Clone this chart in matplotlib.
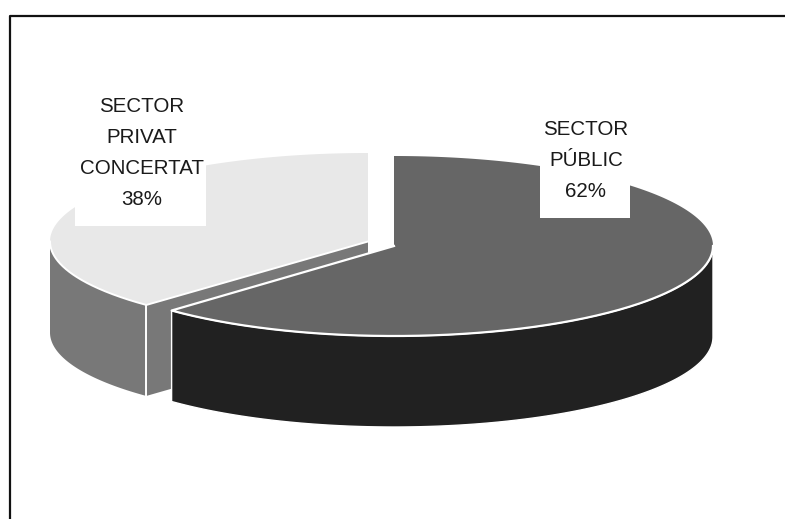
import numpy as np
import matplotlib
matplotlib.use("Agg")
import matplotlib.pyplot as plt
from matplotlib.patches import Polygon, Rectangle

# data
sectors = ["SECTOR PÚBLIC", "SECTOR PRIVAT CONCERTAT"]
shares = [62, 38]
label_lines = [["SECTOR", "PÚBLIC", "62%"], ["SECTOR", "PRIVAT", "CONCERTAT", "38%"]]

# colours for (top, wall)
top_colors = ["#666666", "#e8e8e8"]
wall_colors = ["#212121", "#787878"]

plt.rcParams["font.family"] = ["Liberation Sans", "DejaVu Sans"]

fig = plt.figure(figsize=(7.85, 5.19), dpi=100)
ax = fig.add_axes([0, 0, 1, 1])
ax.set_xlim(0, 785)
ax.set_ylim(519, 0)
ax.axis("off")

depth = 91
# angle where the two slices meet, with a small nudge for the tilted view
split = 90 - 360 * shares[0] / sum(shares) - 1


def arc(cx, cy, rx, ry, start, end):
    t = np.radians(np.linspace(start, end, 200))
    return np.column_stack([cx + rx * np.cos(t), cy - ry * np.sin(t)])


def wall(points):
    return np.vstack([points, points[::-1] + [0, depth]])


# light slice, pulled out to the left
lx, ly, lrx, lry = 368, 241.5, 318, 88.5
light_arc = arc(lx, ly, lrx, lry, 90, split + 360)
front = light_arc[-1]
ax.add_patch(Polygon(wall(np.array([front, [lx, ly]])), fc=wall_colors[1], ec="none", zorder=2))
wall_arc = arc(lx, ly, lrx, lry, 180, split + 360)
ax.add_patch(Polygon(wall(wall_arc), fc=wall_colors[1], ec="none", zorder=2))
ax.plot([front[0], front[0]], [front[1], front[1] + depth], color="white", lw=1.4, zorder=3)
ax.add_patch(Polygon(np.vstack([light_arc, [lx, ly]]), fc=top_colors[1], ec="none", zorder=4))
ax.plot(*np.vstack([wall_arc, [lx, ly]]).T, color="white", lw=1.4, zorder=4)

# dark slice
dx, dy, drx, dry = 394, 246, 319, 90
dark_arc = arc(dx, dy, drx, dry, 90, split)
wall_arc = arc(dx, dy, drx, dry, split, 0)
ax.add_patch(Polygon(wall(wall_arc), fc=wall_colors[0], ec="white", lw=1.0, zorder=5))
ax.add_patch(Polygon(np.vstack([dark_arc, [dx, dy]]), fc=top_colors[0], ec="none", zorder=6))
ax.plot(*np.vstack([[dx, dy], wall_arc[0], wall_arc]).T, color="white", lw=1.6, zorder=6)

# white label boxes, then text
boxes = [(540, 108, 90, 110), (75, 90, 131, 136)]
first_baseline = [135, 112]
centers = [586, 142]
for box, y0, xc, lines in zip(boxes, first_baseline, centers, label_lines):
    ax.add_patch(Rectangle(box[:2], box[2], box[3], fc="white", ec="none", zorder=7))
    for i, line in enumerate(lines):
        ax.text(xc, y0 + i * 31, line, ha="center", va="baseline", fontsize=14.8,
                color="#1a1a1a", zorder=8)

# frame, open on the right and at the bottom
ax.plot([9.5, 9.5, 785], [519, 15.5, 15.5], color="#111111", lw=1.6, zorder=9)

fig.savefig("out.png", dpi=100)
